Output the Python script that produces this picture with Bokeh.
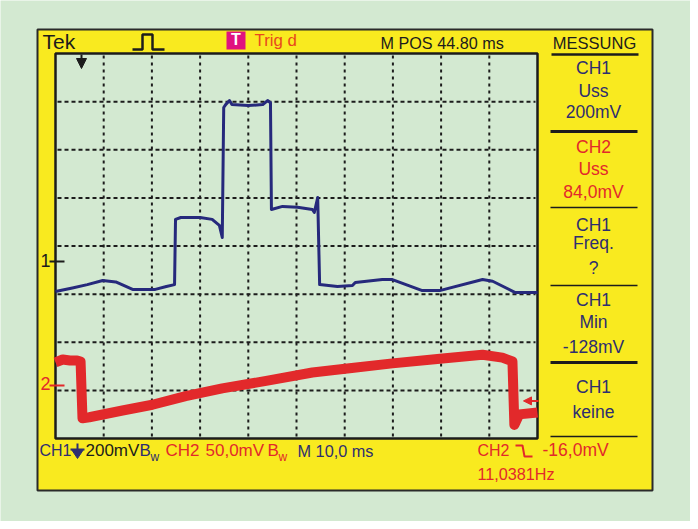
from bokeh.plotting import figure
from bokeh.models import Range1d, Arrow, NormalHead
from bokeh.embed import file_html
from bokeh.resources import INLINE
from bokeh.core.properties import value

# ---------------- data ----------------
# CH1 (blue), time in ms, voltage in mV (200 mV/div)
ch1_t = [0, 3.5, 6.6, 9.8, 12.5, 16.0, 20.7, 23.0, 24.7, 24.9, 26.0, 30.0, 32.5, 34.0, 34.6,
         34.9, 35.3, 36.1, 36.6, 40.0, 43.0, 44.0, 44.6, 44.8, 47.1, 50.2, 53.3, 53.7, 54.4,
         54.8, 58.5, 61.6, 62.2, 67.8, 69.9, 76.1, 79.7, 88.6, 90.7, 95.4, 100]
ch1_mv = [-125, -110, -96, -79, -85, -116, -116, -104, -96, 175, 183, 183, 175, 150, 100,
          640, 652, 669, 652, 648, 652, 669, 660, 216, 229, 225, 216, 204, 266,
          -96, -104, -100, -87, -75, -75, -121, -121, -75, -82, -129, -129]
# CH2 (red), time in ms, voltage in mV (50 mV/div)
ch2_t = [0, 1.5, 3.0, 4.5, 5.2, 5.6, 7.0, 13.9, 20.1, 27.0, 34.6, 44.0, 53.3, 61.0, 69.9,
         80.3, 88.6, 92.7, 94.8, 95.2, 96.2, 100]
ch2_mv = [24, 27, 26, 26, 25, -34, -33, -26, -20, -11, -3, 5, 13.5, 18, 23,
          28, 32, 29, 25, -41, -30, -28]
trig_level_mv = -16.0

grid_ms = [10, 20, 30, 40, 50, 60, 70, 80, 90]
panel_blocks = [
    (["CH1", "Uss", "200mV"], "navy"),
    (["CH2", "Uss", "84,0mV"], "red"),
    (["CH1", "Freq.", "?"], "navy"),
    (["CH1", "Min", "-128mV"], "navy"),
    (["CH1", "keine"], "navy"),
]

# ---------------- style / layout ----------------
BG = "#d3e9d1"
YEL = "#f9ea1f"
NAVY = "#2e2e70"
TRACE1 = "#26297c"
RED = "#e2292b"
ORANGE = "#e8481e"
MAGENTA = "#e0127f"
BLACK = "#1c1c1c"
FONT = "Liberation Sans"
BASE_FIX = 0.42   # empirical baseline correction (fraction of font size)

W, H = 690, 521
OX, OY = 8, 8
SCR_L, SCR_R, SCR_T, SCR_B = 63, 545, 61, 446
px_per_ms = (SCR_R - SCR_L) / 100.0
px_per_div = (SCR_B - SCR_T) / 8.0
CH1_GND, CH1_VDIV = 269, 200.0
CH2_GND, CH2_VDIV = 393, 50.0

p = figure(width=W, height=H, x_range=Range1d(OX, OX + W), y_range=Range1d(OY + H, OY),
           output_backend="svg", toolbar_location=None, min_border=0,
           x_axis_location=None, y_axis_location=None,
           background_fill_color=BG, border_fill_color=BG, outline_line_color=None)
p.xgrid.visible = False
p.ygrid.visible = False

# extra scales for the traces
p.extra_x_ranges = {"ms": Range1d((OX - SCR_L) / px_per_ms, (OX + W - SCR_L) / px_per_ms)}
def ch_range(gnd, vdiv):
    k = vdiv / px_per_div
    return Range1d((gnd - (OY + H)) * k, (gnd - OY) * k)
p.extra_y_ranges = {"ch1": ch_range(CH1_GND, CH1_VDIV), "ch2": ch_range(CH2_GND, CH2_VDIV)}

# yellow frame and screen
p.quad(left=45, right=660, top=37, bottom=498, fill_color=YEL, line_color="#2a2a2a", line_width=2)
p.quad(left=SCR_L, right=SCR_R, top=SCR_T, bottom=SCR_B, fill_color=BG, line_color=BLACK, line_width=2.5)

# graticule
p.segment(x0=grid_ms, x1=grid_ms, y0=[SCR_T + 2] * 9, y1=[SCR_B - 2] * 9, x_range_name="ms",
          line_color=BLACK, line_width=2, line_dash="3 4")
hy = [SCR_T + k * px_per_div for k in range(1, 8)]
p.segment(x0=[SCR_L + 2] * 7, x1=[SCR_R - 2] * 7, y0=hy, y1=hy,
          line_color=BLACK, line_width=2, line_dash="4 3")

# traces
p.line(ch2_t, ch2_mv, x_range_name="ms", y_range_name="ch2", line_color=RED, line_width=10,
       line_join="round", line_cap="butt")
p.line(ch1_t, ch1_mv, x_range_name="ms", y_range_name="ch1", line_color=TRACE1, line_width=3,
       line_join="round")

def txt(x, y, s, color, size=17, align="left", style="normal"):
    # y is the wanted alphabetic baseline in page pixels
    p.text(x=[x], y=[y - BASE_FIX * size], text=[s], text_color=color, text_font=value(FONT),
           text_font_size=value(f"{size}px"), text_align=align, text_baseline="alphabetic",
           text_font_style=style)

# top bar
txt(50, 58, "Tek", BLACK, size=21)
p.line([140, 150, 150, 160, 160, 172], [57, 57, 42, 42, 57, 57], line_color=BLACK, line_width=2.5)
p.quad(left=234, right=253, top=39, bottom=57, fill_color=MAGENTA, line_color=None)
txt(243.5, 54, "T", "white", size=16, align="center", style="bold")
txt(262, 55, "Trig d", ORANGE, size=16.8)
txt(388, 57, "M POS 44.80 ms", BLACK, size=16.2)
txt(602, 57, "MESSUNG", BLACK, size=16.5, align="center")
p.segment(x0=[559], x1=[646], y0=[62], y1=[62], line_color=BLACK, line_width=2.5)
p.add_layout(Arrow(end=NormalHead(size=10, fill_color=BLACK, line_color=BLACK),
                   x_start=89, y_start=62, x_end=89, y_end=76, line_color=BLACK, line_width=2))

# measurement panel
baselines = [[83, 106, 127], [162, 184, 207], [240, 258, 283], [315, 337, 362], [402, 427]]
seps = [(139, 3), (215, 1.5), (293, 1.5), (370, 3), (444, 1.5)]
for (lines, col), bl in zip(panel_blocks, baselines):
    c = NAVY if col == "navy" else RED
    for s, yb in zip(lines, bl):
        txt(601, yb, s, c, size=17.5, align="center")
for ys, lw in seps:
    p.segment(x0=[558], x1=[645], y0=[ys], y1=[ys], line_color=BLACK, line_width=lw)

# channel markers
txt(48, CH1_GND + 7, "1", BLACK, size=18)
p.segment(x0=[57], x1=[72], y0=[0], y1=[0], y_range_name="ch1", line_color=BLACK, line_width=2)
txt(48, CH2_GND + 6, "2", RED, size=18)
p.segment(x0=[57], x1=[72], y0=[0], y1=[0], y_range_name="ch2", line_color=RED, line_width=2)
p.add_layout(Arrow(end=NormalHead(size=8, fill_color=RED, line_color=RED),
                   x_start=546, y_start=trig_level_mv, x_end=531, y_end=trig_level_mv,
                   y_range_name="ch2", line_color=RED, line_width=2))

# bottom bar
txt(47, 465, "CH1", NAVY, size=16)
p.segment(x0=[85, 78], x1=[85, 92], y0=[451, 457], y1=[458, 457], line_color=NAVY, line_width=2)
p.patch([79, 91, 85], [457, 457, 466], fill_color=NAVY, line_color=NAVY)
txt(93, 465, "200mV", BLACK, size=17)
txt(147, 465, "B", NAVY, size=17)
txt(158, 470, "w", NAVY, size=12)
txt(173, 465, "CH2", RED, size=17)
txt(213, 465, "50,0mV", RED, size=17)
txt(275, 465, "B", RED, size=17)
txt(286, 470, "w", RED, size=12)
txt(305, 465, "M 10,0 ms", NAVY, size=16.3)
txt(485, 465, "CH2", RED, size=16)
p.line([523, 530, 532, 540], [453, 453, 464, 464], line_color=RED, line_width=2)
txt(550, 465, "-16,0mV", RED, size=17.5)
txt(485, 488, "11,0381Hz", RED, size=16.2)

open("out.html", "w").write(file_html(p, INLINE))
